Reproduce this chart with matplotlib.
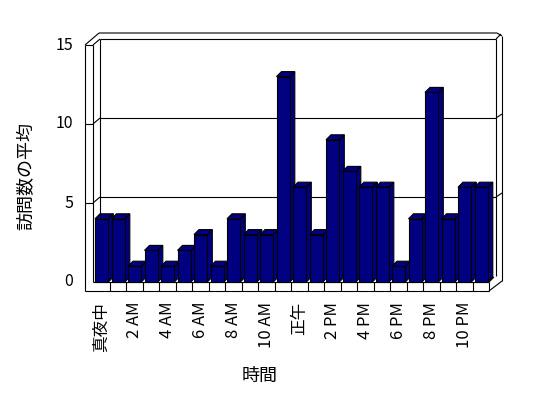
import numpy as np
import matplotlib.pyplot as plt
from matplotlib.patches import Polygon

plt.rcParams['font.family'] = ['Noto Sans CJK JP', 'DejaVu Sans']

# データ
hours = ['真夜中', '1 AM', '2 AM', '3 AM', '4 AM', '5 AM', '6 AM', '7 AM',
         '8 AM', '9 AM', '10 AM', '11 AM', '正午', '1 PM', '2 PM', '3 PM',
         '4 PM', '5 PM', '6 PM', '7 PM', '8 PM', '9 PM', '10 PM', '11 PM']
visits = [4, 4, 1, 2, 1, 2, 3, 1, 4, 3, 3, 13, 6, 3, 9, 7, 6, 6, 1, 4, 12, 4, 6, 6]
y_ticks = [0, 5, 10, 15]
x_title = '時間'
y_title = '訪問数の平均'

n = len(visits)
vmax = y_ticks[-1]

# 1カテゴリ / 1単位 あたりのピクセル
PX_X = 16.5
PX_Y = 15.8
def ux(px):
    return px / PX_X
def uy(px):
    return px / PX_Y

fig = plt.figure(figsize=(5.48, 3.98), dpi=100)
ax = fig.add_axes([0, 0, 1, 1])
ax.set_xlim(-ux(93), ux(548 - 93))
ax.set_ylim(-uy(398 - 282), uy(282))
ax.axis('off')

lc = dict(color='black', lw=0.8, zorder=1, solid_capstyle='butt')

tw = ux(8)       # 左壁の厚み
tf = uy(9)       # 床の厚み
ddx, ddy = ux(7), uy(6)   # 奥行き
trx, tty = ux(6), uy(6)   # 奥の壁の厚み

# 左の壁
ax.plot([-tw, -tw], [-tf, vmax], **lc)
ax.plot([0, 0], [0, vmax], **lc)
ax.plot([-tw, 0], [vmax, vmax], **lc)
ax.plot([-tw, ddx - ux(1)], [vmax, vmax + ddy + tty], **lc)
ax.plot([0, ddx], [vmax, vmax + ddy], **lc)

# 奥の壁
ax.plot([ddx, ddx], [ddy, vmax + ddy], **lc)
ax.plot([ddx, n + ddx], [vmax + ddy, vmax + ddy], **lc)
ax.plot([ddx - ux(1), n + ddx + trx - ux(5), n + ddx + trx],
        [vmax + ddy + tty, vmax + ddy + tty, vmax + ddy + tty - uy(3)], **lc)
ax.plot([n + ddx, n + ddx], [ddy, vmax + ddy], **lc)
ax.plot([n + ddx + trx, n + ddx + trx], [uy(1), vmax + ddy + tty - uy(3)], **lc)
ax.plot([n + ddx, n + ddx + trx - ux(1)], [vmax + ddy, vmax + ddy + tty - uy(1)], **lc)

# 目盛線
for t in y_ticks[1:-1]:
    ax.plot([ddx, n + ddx], [t + ddy, t + ddy], **lc)
    ax.plot([0, ddx], [t, t + ddy], **lc)
    ax.plot([-tw, 0], [t, t], **lc)
    ax.plot([n + ddx, n + ddx + trx], [t + ddy, t + ddy + uy(4)], **lc)

# 床
ax.plot([0, n], [0, 0], **lc)
ax.plot([-tw, n], [-tf, -tf], **lc)
ax.plot([n, n], [-tf, 0], **lc)
ax.plot([n, n + ddx + trx], [-tf, uy(1)], **lc)
ax.plot([n, n + ddx - ux(2)], [0, ddy - uy(1)], **lc)
for k in range(1, n):
    ax.plot([k, k], [-tf, 0], **lc)

# 棒 (3D風)
navy = '#000080'
bar_off = ux(2)
bar_w = ux(13.3)
bdx, bdy = ux(5), uy(5)
pos = np.arange(n)
bars = ax.bar(pos + bar_off, visits, width=bar_w, align='edge',
              color=navy, edgecolor='black', linewidth=0.8)
for i, (b, v) in enumerate(zip(bars, visits)):
    l = pos[i] + bar_off
    r = l + bar_w
    z = 3 + i * 0.01
    side = Polygon([(r, 0), (r + bdx, bdy), (r + bdx, v + bdy), (r, v)],
                   closed=True, facecolor=navy, edgecolor='black', lw=0.8, zorder=z)
    top = Polygon([(l, v), (r, v), (r + bdx, v + bdy), (l + bdx, v + bdy)],
                  closed=True, facecolor=navy, edgecolor='black', lw=0.8, zorder=z)
    ax.add_patch(side)
    ax.add_patch(top)
    b.set_zorder(z + 0.005)

# 軸ラベル
for t in y_ticks:
    ax.text(-ux(20), t, str(t), ha='right', va='center', fontsize=11.5)
for i in range(0, n, 2):
    ax.text(pos[i] + 0.5, -uy(20), hours[i], rotation=90, ha='center', va='top',
            fontsize=12)

fig.text(26 / 548, 1 - 176 / 398, y_title, rotation=90, ha='center', va='center',
         fontsize=13)
fig.text(260 / 548, 1 - 376 / 398, x_title, ha='center', va='center', fontsize=13)

fig.savefig('out.png', dpi=100)
